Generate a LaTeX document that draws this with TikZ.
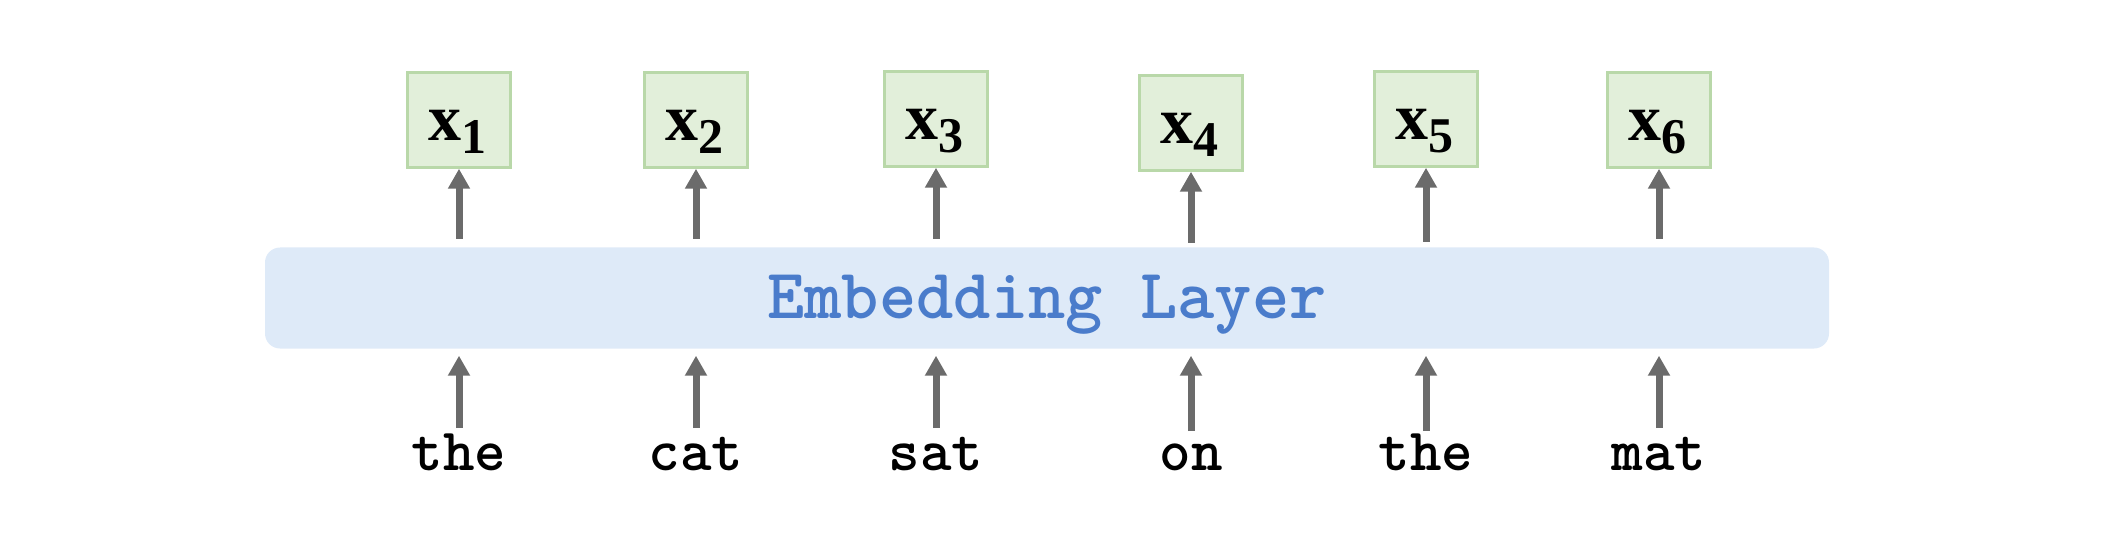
\documentclass[tikz,border=0pt]{standalone}
\usepackage{fontspec}
\setmainfont{Liberation Serif}
\usetikzlibrary{arrows.meta}
\definecolor{boxgreen}{HTML}{E2EFDA}
\definecolor{boxgreenline}{HTML}{B9D8A9}
\definecolor{layerblue}{HTML}{DEEAF8}
\definecolor{textblue}{HTML}{4A7CCB}
\definecolor{arrowgray}{HTML}{6B6B6B}
\tikzset{
  xbox/.style={draw=boxgreenline, fill=boxgreen, line width=2.5pt, minimum width=103pt, minimum height=95pt, inner sep=0pt},
  xlab/.style={anchor=base, inner sep=0pt, font=\fontsize{66}{66}\selectfont\bfseries},
  word/.style={anchor=base, inner sep=0pt, font=\fontsize{60}{60}\selectfont\ttfamily\bfseries},
  layer/.style={fill=layerblue, rounded corners=15pt, minimum width=1564pt, minimum height=101pt, inner sep=0pt},
  uparrow/.style={draw=arrowgray, line width=7pt, -{Triangle[width=21pt,length=20pt]}}
}
\newcommand{\xsub}[1]{x\raisebox{-13pt}{\fontsize{50}{50}\selectfont\bfseries #1}}
\begin{document}
\begin{tikzpicture}[x=1pt,y=-1pt]
\useasboundingbox (0,0) rectangle (2102,556);
% embedding layer
\node[layer] (emb) at (1047,298) {};
\node[anchor=base, inner sep=0pt, text=textblue, font=\fontsize{71}{71}\selectfont\ttfamily\bfseries] (embtext) at (1047,318) {Embedding Layer};
% output boxes
\node[xbox] (b1) at (459,120) {};
\node[xbox] (b2) at (696,120) {};
\node[xbox] (b3) at (936,119) {};
\node[xbox] (b4) at (1191,123) {};
\node[xbox] (b5) at (1426,119) {};
\node[xbox] (b6) at (1659,120) {};
\node[xlab] (l1) at (457,141) {\xsub{1}};
\node[xlab] (l2) at (694,141) {\xsub{2}};
\node[xlab] (l3) at (934,140) {\xsub{3}};
\node[xlab] (l4) at (1189,144) {\xsub{4}};
\node[xlab] (l5) at (1424,140) {\xsub{5}};
\node[xlab] (l6) at (1657,141) {\xsub{6}};
% words
\node[word] (w1) at (459,470) {the};
\node[word] (w2) at (696,470) {cat};
\node[word] (w3) at (936,470) {sat};
\node[word] (w4) at (1191,470) {on};
\node[word] (w5) at (1426,470) {the};
\node[word] (w6) at (1659,470) {mat};
% arrow anchors
\coordinate (u1) at (459,239);
\coordinate (u2) at (696,239);
\coordinate (u3) at (936,239);
\coordinate (u4) at (1191,243);
\coordinate (u5) at (1426,242);
\coordinate (u6) at (1659,239);
\coordinate (d1) at (459,428);
\coordinate (d2) at (696,428);
\coordinate (d3) at (936,428);
\coordinate (d4) at (1191,431);
\coordinate (d5) at (1426,431);
\coordinate (d6) at (1659,428);
\foreach \i in {1,...,6}{
  \draw[uparrow] (u\i) -- (b\i.south);
  \draw[uparrow, shorten >=7pt] (d\i) -- (d\i |- emb.south);
}
\end{tikzpicture}
\end{document}
